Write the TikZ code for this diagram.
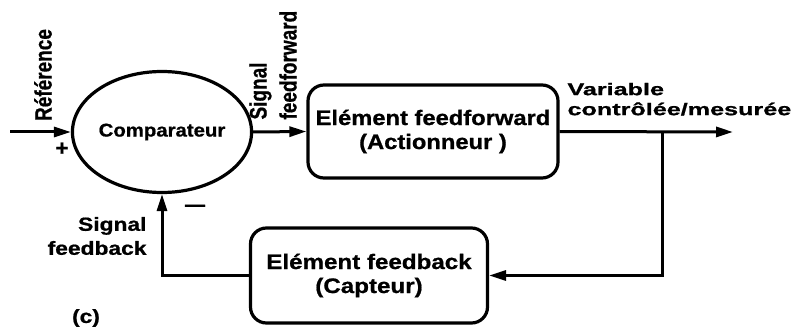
\documentclass[tikz,border=0pt]{standalone}
\usepackage{fontspec}
\setmainfont{Liberation Sans}[BoldFeatures={FakeBold=0.8}]
\usetikzlibrary{arrows.meta,shapes.geometric}
\newcommand\hstr[2]{\scalebox{#1}[1]{#2}}
\newcommand\vstr[2]{\scalebox{1}[#1]{#2}}
\begin{document}
\begin{tikzpicture}[x=1pt,y=-1pt,line width=3pt,
  arr/.style={-{Triangle[length=17pt,width=10pt]}},
  blockbox/.style={draw,rounded corners=16pt,line width=3.2pt,inner sep=0pt,align=center,
     font=\fontsize{21}{24}\selectfont\bfseries},
  lbl/.style={inner sep=0pt,font=\fontsize{17}{19}\selectfont\bfseries}]
\useasboundingbox (0,0) rectangle (794,331);
\node[draw,ellipse,line width=3.2pt,minimum width=145pt,minimum height=121pt,inner sep=0pt,
  font=\fontsize{18.5}{20}\selectfont\bfseries] (comp) at (162,132) {\hstr{1.1}{Comparateur}};
\node[blockbox,minimum width=250pt,minimum height=93pt] (ff) at (433,131.5)
  {\hstr{1.13}{Elément feedforward}\\\hstr{1.13}{(Actionneur )}};
\node[blockbox,minimum width=237pt,minimum height=95pt] (fb) at (369,275.5)
  {\hstr{1.15}{Elément feedback}\\\hstr{1.15}{(Capteur)}};
\coordinate (in) at (10,132);
\coordinate (out) at (733,132);
\coordinate (br) at (662,132);
\draw[arr] (in) -- (comp.west);
\draw[arr] (comp.east) -- (ff.west);
\draw[arr] (ff.east) -- (out);
\draw[arr] (br) |- (fb.east);
\draw[arr] (fb.west) -| (comp.south);
% labels
\node[lbl,rotate=90,font=\fontsize{19}{21}\selectfont\bfseries] (ref) at (43,75) {\vstr{1.25}{Référence}};
\node[lbl,font=\fontsize{22}{24}\selectfont\bfseries] (plus) at (62,149) {+};
\node[lbl,rotate=90,anchor=north west,font=\fontsize{19}{24}\selectfont\bfseries] (sff) at (244,121)
  {\vstr{1.25}{\begin{tabular}{@{}l@{}}Signal\\feedforward\end{tabular}}};
\node[lbl,anchor=south west,align=left,font=\fontsize{17}{20}\selectfont\bfseries] (var) at (566,117)
  {\hstr{1.48}{Variable}\\\hstr{1.48}{contrôlée/mesurée}};
\node[lbl,anchor=east,align=right,font=\fontsize{19}{24}\selectfont\bfseries] (sfb) at (148,236)
  {\hstr{1.2}{Signal}\\\hstr{1.2}{feedback}};
\node[lbl,font=\fontsize{20}{22}\selectfont\bfseries] (minus) at (195,208) {—};
\node[lbl,font=\fontsize{19}{21}\selectfont\bfseries] (c) at (86,318) {\hstr{1.2}{(c)}};
\end{tikzpicture}
\end{document}
